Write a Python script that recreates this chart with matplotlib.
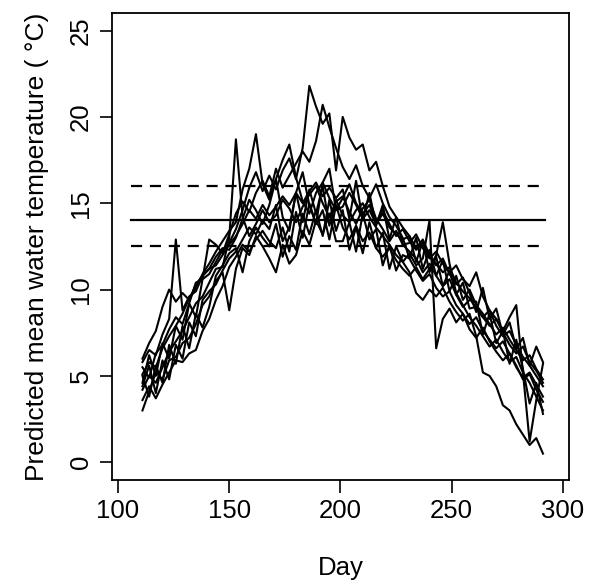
import matplotlib.pyplot as plt

plt.rcParams['font.family'] = ['Liberation Sans', 'DejaVu Sans']

# day of year, every third day
days = list(range(111, 292, 3))

# predicted mean water temperature, one list per simulated year
run1 = [5.8, 6.5, 6.2, 7.4, 8.3, 12.9, 8.8, 9.6, 9.9, 10.8,
        11.2, 11.9, 12.4, 12.3, 13.0, 14.1, 15.2, 14.6, 13.8, 14.9,
        16.4, 14.2, 13.4, 15.6, 16.8, 14.9, 13.8, 16.2, 17.0, 14.6,
        14.8, 15.6, 14.9, 14.1, 14.6, 13.8, 14.4, 13.6, 13.2, 12.9,
        13.1, 11.6, 12.8, 11.0, 11.9, 10.2, 11.1, 9.7, 10.4, 8.9,
        9.0, 8.4, 8.8, 7.9, 7.3, 7.6, 6.8, 6.1, 5.6, 5.0, 4.4]
run2 = [4.2, 5.0, 4.6, 5.5, 6.4, 7.0, 7.6, 8.4, 9.2, 9.6,
        10.4, 11.2, 11.3, 13.0, 18.7, 14.2, 13.1, 13.8, 14.6, 13.9,
        14.3, 15.2, 14.7, 13.9, 14.8, 15.5, 16.0, 15.0, 14.2, 15.1,
        15.4, 14.5, 13.8, 14.7, 15.2, 14.1, 13.5, 12.8, 13.4, 12.6,
        12.2, 11.8, 11.0, 11.5, 10.8, 10.2, 10.6, 9.7, 9.0, 9.4,
        9.3, 7.4, 8.6, 6.9, 7.6, 5.7, 7.1, 5.4, 3.4, 4.6, 2.8]
run3 = [3.0, 4.1, 5.2, 4.8, 5.9, 6.1, 6.9, 7.2, 8.0, 9.1,
        9.6, 10.5, 11.0, 8.8, 11.2, 12.4, 12.0, 13.1, 12.5, 11.8,
        11.0, 12.6, 11.5, 12.0, 13.4, 12.6, 14.0, 13.2, 14.4, 12.8,
        12.8, 13.9, 12.2, 14.4, 12.9, 13.5, 11.4, 12.6, 11.1, 12.0,
        11.8, 11.1, 10.5, 10.9, 10.1, 9.6, 9.9, 9.1, 8.6, 8.0,
        8.4, 7.6, 7.1, 6.6, 7.0, 6.3, 5.5, 4.9, 5.2, 4.5, 3.8]
run4 = [5.1, 5.8, 5.5, 6.6, 7.3, 7.9, 8.6, 9.5, 10.1, 10.9,
        11.5, 12.2, 12.8, 13.4, 13.9, 15.8, 17.0, 19.0, 16.1, 15.2,
        16.4, 17.5, 18.4, 16.5, 15.1, 14.4, 15.6, 16.2, 15.3, 14.6,
        15.3, 16.1, 15.0, 14.4, 14.9, 13.9, 14.6, 13.8, 13.1, 13.5,
        12.8, 12.3, 12.7, 11.9, 11.4, 11.8, 10.9, 10.3, 10.7, 9.8,
        8.7, 10.1, 8.3, 8.9, 7.4, 8.1, 6.6, 7.2, 5.6, 6.7, 5.8]
run5 = [4.6, 6.2, 5.0, 6.9, 6.0, 7.9, 7.1, 9.2, 8.4, 10.6,
        10.9, 11.6, 12.3, 12.7, 13.5, 14.6, 15.9, 16.8, 15.7, 16.6,
        15.8, 16.9, 17.6, 16.4, 18.2, 21.8, 20.6, 19.6, 20.2, 16.9,
        20.0, 18.8, 18.1, 18.4, 16.9, 17.4, 16.0, 14.8, 14.2, 13.6,
        13.1, 12.4, 12.9, 12.0, 11.5, 11.0, 11.3, 10.4, 9.9, 9.5,
        8.9, 8.4, 7.9, 8.3, 7.5, 6.8, 6.3, 6.7, 5.8, 5.3, 4.6]
run6 = [5.5, 4.9, 6.3, 6.8, 7.7, 8.4, 8.0, 9.2, 10.4, 10.6,
        12.9, 12.6, 12.1, 13.2, 14.4, 15.1, 14.5, 15.6, 16.3, 15.4,
        17.0, 15.9, 16.6, 17.3, 18.0, 17.4, 18.6, 20.7, 19.4, 18.2,
        17.1, 16.4, 17.2, 16.0, 15.3, 16.1, 15.0, 14.2, 13.7, 13.0,
        11.8, 13.0, 11.2, 12.3, 10.8, 11.7, 9.9, 10.8, 9.4, 10.0,
        9.1, 8.6, 8.0, 7.4, 7.8, 7.1, 6.5, 5.9, 6.2, 5.4, 4.8]
run7 = [4.4, 5.6, 4.0, 5.9, 4.8, 6.8, 6.0, 8.1, 7.3, 9.4,
        9.9, 10.3, 11.1, 11.8, 12.2, 12.9, 13.6, 13.2, 14.0, 13.5,
        14.9, 12.8, 13.6, 15.6, 13.9, 15.8, 14.4, 16.0, 13.7, 15.2,
        14.3, 13.9, 14.6, 15.0, 14.2, 13.6, 13.1, 12.6, 12.0, 11.6,
        12.1, 11.4, 11.8, 14.0, 6.6, 8.3, 8.9, 8.1, 8.6, 7.7,
        7.2, 7.8, 7.0, 6.4, 5.9, 6.3, 5.6, 4.8, 5.1, 4.2, 3.5]
run8 = [3.6, 4.4, 3.7, 4.5, 5.2, 5.9, 5.8, 6.3, 6.5, 7.6,
        8.3, 9.4, 10.2, 11.3, 11.9, 12.6, 12.2, 12.9, 13.4, 12.8,
        12.4, 13.6, 12.2, 14.5, 13.0, 15.0, 13.8, 14.6, 12.9, 14.9,
        13.6, 12.9, 13.7, 12.8, 13.3, 12.4, 11.9, 12.4, 11.7, 11.2,
        10.8, 11.3, 10.6, 11.2, 12.0, 13.9, 11.5, 9.8, 9.1, 8.4,
        7.9, 7.3, 6.7, 7.1, 6.4, 5.8, 6.1, 5.2, 4.6, 3.8, 3.0]
run9 = [6.0, 6.9, 7.6, 9.0, 10.0, 9.3, 9.8, 9.4, 10.3, 10.8,
        11.2, 11.4, 12.0, 12.6, 13.1, 13.8, 14.6, 14.1, 14.9, 14.3,
        14.8, 15.4, 14.9, 15.6, 15.0, 15.7, 16.2, 15.4, 15.9, 15.3,
        15.8, 14.1, 16.3, 14.0, 15.6, 13.7, 14.9, 12.9, 14.2, 12.6,
        12.7, 13.2, 12.4, 11.8, 12.2, 11.5, 11.0, 11.4, 10.6, 10.2,
        11.0, 9.6, 8.8, 8.3, 7.6, 8.4, 9.1, 5.2, 1.2, 3.6, 5.7]
run10 = [5.0, 3.8, 5.6, 4.6, 6.8, 5.7, 7.9, 6.6, 8.6, 7.8,
         9.0, 10.8, 11.4, 12.1, 12.4, 11.0, 12.8, 13.6, 13.0, 12.5,
         13.8, 11.9, 13.1, 12.3, 14.4, 13.2, 14.6, 13.1, 15.2, 13.4,
         14.6, 12.3, 13.6, 12.1, 13.9, 12.4, 13.3, 11.2, 12.5, 11.6,
         11.0, 9.8, 9.4, 10.0, 9.6, 10.1, 9.3, 8.7, 8.2, 8.6,
         7.3, 5.2, 5.0, 4.4, 3.3, 3.0, 2.2, 1.6, 1.0, 1.4, 0.5]

runs = [run1, run2, run3, run4, run5, run6, run7, run8, run9, run10]

# reference temperature and its band
ref_days = [106, 292]
ref_mid = 14
ref_low = 12.5
ref_high = 16

fig = plt.figure(figsize=(5.9, 5.88), dpi=100)
ax = fig.add_axes([0.1898, 0.1845, 0.7746, 0.7929])

for r in runs:
    ax.plot(days, r, color='black', lw=1.5)

ax.plot(ref_days, [ref_mid, ref_mid], color='black', lw=1.6)
ax.plot(ref_days, [ref_high, ref_high], color='black', lw=1.6, dashes=(5, 3.5))
ax.plot(ref_days, [ref_low, ref_low], color='black', lw=1.6, dashes=(5, 3.5))

ax.set_xlim(97.3, 302.7)
ax.set_ylim(-1, 26)
ax.set_xticks([100, 150, 200, 250, 300])
ax.set_yticks([0, 5, 10, 15, 20, 25])
ax.tick_params(labelsize=18.5, length=9, width=1.2, pad=5)
for lab in ax.get_yticklabels():
    lab.set_rotation(90)
    lab.set_va('center')
for s in ax.spines.values():
    s.set_linewidth(1.3)

ax.set_xlabel('Day', fontsize=18.5, labelpad=24)
ax.set_ylabel('Predicted mean water temperature ( °C)', fontsize=19, labelpad=14)

fig.savefig('out.png', dpi=100)
